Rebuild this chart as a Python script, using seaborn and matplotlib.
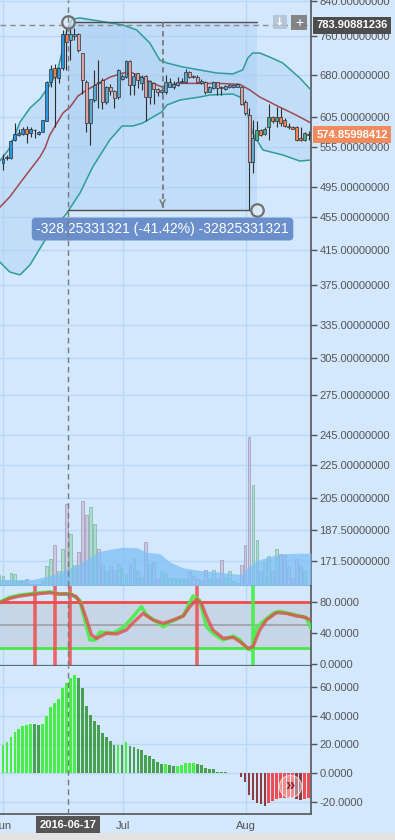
import numpy as np
import pandas as pd
import matplotlib
matplotlib.use("Agg")
import matplotlib.pyplot as plt
from matplotlib.ticker import FixedLocator, NullLocator, FuncFormatter
from matplotlib.patches import Rectangle
import seaborn as sns

# ---------------- data (day index 0 = 2016-06-01) ----------------
days = list(range(78))
opens = [531, 538, 538, 566, 574, 576, 585, 577, 583, 576,
         580, 598, 668, 694, 675, 694, 765, 753, 760, 766,
         724, 668, 594, 634, 668, 671, 631, 658, 651, 639,
         673, 677, 709, 662, 684, 666, 679, 640, 666, 654,
         649, 649, 659, 659, 662, 667, 668, 687, 679, 678,
         666, 668, 649, 656, 668, 659, 654, 659, 659, 659,
         659, 631, 608, 532, 567, 583, 576, 587, 604, 598,
         604, 599, 590, 588, 587, 569, 566, 576]
highs = [544, 543, 566, 594, 585, 587, 589, 587, 584, 581,
         600, 670, 701, 702, 697, 774, 780, 783.91, 779, 768,
         725, 671, 637, 691, 711, 675, 660, 664, 653, 692,
         682, 711, 711, 685, 684, 681, 681, 671, 668, 656,
         659, 681, 675, 670, 678, 675, 692, 689, 681, 681,
         673, 670, 660, 670, 668, 660, 662, 663, 663, 665,
         660, 634, 620, 599, 597, 585, 587, 628, 606, 622,
         620, 603, 594, 589, 589, 587, 580, 581]
lows = [520, 535, 537, 564, 573, 574, 562, 571, 569, 575,
        579, 597, 658, 588, 666, 691, 691, 711, 752, 727,
        646, 580, 558, 631, 620, 619, 628, 643, 620, 637,
        671, 675, 643, 643, 656, 653, 597, 627, 628, 642,
        646, 646, 658, 654, 660, 665, 666, 675, 675, 665,
        663, 646, 648, 654, 643, 643, 653, 656, 657, 658,
        625, 608, 464.23, 516, 566, 572, 574, 566, 594, 587,
        589, 587, 585, 584, 564, 564, 565, 566]
closes = [536, 539, 565, 576, 578, 585, 576, 585, 582, 580,
          599, 668, 692, 677, 694, 766, 748, 765, 766, 731,
          671, 594, 636, 662, 665, 631, 659, 651, 638, 691,
          679, 709, 662, 679, 671, 678, 640, 670, 654, 649,
          653, 668, 668, 664, 668, 670, 687, 678, 677, 668,
          670, 648, 659, 668, 656, 656, 660, 661, 661, 663,
          628, 611, 532, 569, 583, 574, 585, 604, 598, 605,
          595, 589, 588, 585, 567, 566, 578, 574.85998412]

# Bollinger bands
upper_days = [-0.8, 1.7, 4.3, 6.8, 9.3, 11.8, 13.6, 14.8, 16.1, 17.4, 19.4, 24.4, 30.2, 33.7,
              37.0, 39.5, 41.3, 45.3, 49.6, 53.9, 57.9, 60.4, 61.7, 62.9, 64.7, 67.2, 70.5, 74.8, 77.6]
upper_vals = [533.5, 553.6, 595.9, 620.1, 636.1, 661.9, 685.1, 724.2, 773.7, 797.8, 800.5, 793.4,
              784.7, 773.7, 745.7, 710.6, 704.6, 696.6, 690.7, 684.8, 683.0, 690.7, 714.6, 724.8,
              724.8, 716.6, 704.6, 675.2, 652.6]
middle_days = [-0.8, 1.7, 4.3, 6.8, 9.3, 10.6, 11.8, 13.6, 15.1, 16.9, 18.9, 21.1, 24.4, 26.9, 30.2,
               32.7, 35.2, 37.8, 40.3, 42.0, 44.6, 49.6, 54.6, 59.7, 62.2, 64.7, 67.2, 69.7, 72.3,
               74.8, 77.6]
middle_vals = [467.9, 481.8, 501.2, 520.1, 539.6, 553.6, 574.4, 594.2, 611.3, 621.7, 641.6, 652.6,
               666.2, 676.6, 684.8, 684.8, 675.2, 664.9, 657.6, 661.9, 664.9, 664.9, 664.9, 663.0,
               652.6, 639.7, 630.7, 621.7, 613.1, 604.5, 594.2]
lower_days = [-0.8, 1.7, 4.3, 6.8, 10.6, 16.1, 19.4, 22.6, 26.9, 30.0, 32.7, 35.2, 37.8, 40.0, 41.3,
              44.6, 49.6, 52.1, 57.9, 59.7, 61.4, 62.9, 65.5, 70.5, 74.8, 77.6]
lower_vals = [400.6, 389.4, 386.2, 397.3, 426.4, 460.3, 487.2, 524.5, 566.3, 589.2, 589.2, 594.2,
              604.5, 613.1, 625.4, 634.3, 639.7, 643.4, 645.2, 639.7, 616.6, 577.6, 550.5, 542.7,
              533.5, 535.0]

# Volume (arbitrary units) and its moving average
vol_days = list(range(-1, 77))
volumes = [11, 10, 5.5, 13, 11.5, 4.5, 4.5, 7, 2, 2,
           2, 4.5, 20, 27, 40.5, 14.5, 37, 82, 52, 21,
           33.5, 85, 70.5, 79, 62, 36.5, 21, 14.5, 19.5, 16,
           22, 18, 12, 22, 27, 14.5, 9, 43.5, 21.5, 23.5,
           7, 14.5, 12, 8, 8, 8, 6.5, 6.5, 14.5, 10,
           7, 5.5, 15.5, 7, 16, 7, 26, 9, 14.5, 4.5,
           3, 21, 40.5, 149, 100.5, 46, 14.5, 24, 30, 15.5,
           37, 31.5, 30.5, 19.5, 8, 27, 19.5, 16]
vol_ma_days = [-0.8, 7.6, 10.1, 13.6, 16.1, 18.6, 21.2, 24.4, 27.7, 30.2, 33.8, 36.3, 39.6, 42.1,
               45.4, 49.6, 54.7, 59.7, 60.5, 61.7, 64.0, 67.3, 70.6, 74.8, 77.6]
vol_ma = [6, 6, 8.3, 11.7, 16.7, 20, 26.7, 34.3, 36.7, 38.3, 37.7, 33.3, 31.7, 23.3,
          17.7, 15, 13.3, 11, 12.3, 18.3, 25, 29, 31.7, 32.3, 32.3]

# Stochastic oscillator
stoch_k_days = [-0.8, 1.7, 4.3, 7.6, 11.8, 14.3, 16.9, 19.4, 20.7, 21.9, 23.2, 24.4, 27.8, 30.3,
                32.8, 34.9, 36.2, 38.7, 40.4, 42.0, 45.4, 47.9, 49.6, 51.3, 52.9, 55.5, 58.0, 59.7,
                61.3, 62.6, 63.8, 65.5, 68.1, 69.7, 72.3, 74.7, 76.4, 77.6]
stoch_k = [80, 86, 89, 91, 93, 90, 91, 82, 55, 31, 31, 41, 40, 47, 61, 74, 63, 54.6, 48.1, 54,
           61.9, 87.7, 81.7, 48.1, 39.6, 31, 36.1, 31, 20.3, 18, 46, 54.6, 65.4, 68, 65, 62, 60, 46]
stoch_d_days = [-0.8, 1.7, 4.3, 7.6, 11.8, 14.3, 16.9, 18.5, 19.8, 21.1, 22.3, 23.6, 26.1, 28.6,
                31.1, 32.8, 35.3, 37.8, 40.4, 42.9, 45.4, 47.1, 48.8, 50.0, 51.3, 52.9, 55.5, 58.0,
                59.7, 61.8, 63.0, 64.7, 66.4, 68.9, 71.4, 74.0, 75.6, 77.6]
stoch_d = [79, 84.7, 87.7, 90, 92, 90.3, 90.3, 86.8, 76, 56.8, 37.4, 33.1, 39.6, 38.7, 43.9, 53.3,
           65.4, 56.8, 52.5, 56.8, 61.9, 74, 83.5, 78.3, 61, 43.9, 33.1, 34.4, 28.8, 20.3, 22.3,
           43.9, 56.8, 66.2, 65.4, 61.9, 61, 56.8]
sell_signal_days = [8, 13, 17, 49]
buy_signal_days = [63]

# MACD histogram
macd_days = list(range(-1, 78))
macd_hist = [16.9, 19.7, 22, 25.5, 28.7, 30.8, 32.9, 33.6, 34.3, 34.3,
             33.6, 34.3, 39.8, 46, 48.8, 51.6, 59.3, 62.7, 66.2, 68.3,
             66.4, 59.3, 46.8, 40.5, 36.3, 33.6, 28.2, 25.2, 22.5, 19.7,
             19.9, 19.7, 21.8, 19, 18, 16.9, 16.2, 12.7, 11.8, 9.7,
             7.9, 6.3, 6.4, 5.6, 4.9, 5.1, 5.8, 6.9, 6.95, 7.0,
             6.3, 5.8, 3.5, 2.8, 2.7, 1.2, 0.7, 0.6, 0.3, 0.2,
             0.1, -2.3, -5.8, -15, -18.5, -20.4, -21.5, -22.5, -20.8, -19,
             -18, -17.4, -17.3, -17.2, -17.1, -18, -18.5, -18, -17.5]

# axis labels / ticks
price_ticks = [840, 760, 680, 605, 555, 495, 455, 415, 375, 335, 305, 275, 245, 225, 205, 187.5, 171.5]
stoch_ticks = [0, 40, 80]
macd_ticks = [-20, 0, 20, 40, 60]
month_pos = [0, 30.3, 61.3]
month_labels = ["Jun", "Jul", "Aug"]
cursor_day = 16.3
cursor_label = "2016-06-17"
peak_marker = 783.90881236
last_price = 574.85998412
meas_start = (16.4, 792.48)
meas_end = (64.0, 464.23)
meas_text = "-328.25331321 (-41.42%) -32825331321"

# ---------------- style ----------------
sns.set_style("white")
plt.rcParams["font.family"] = ["Liberation Sans", "DejaVu Sans"]

BG = "#D3E7FD"
GRID = "#B9D8F6"
AXC = "#555555"
W, H = 395, 840

fig = plt.figure(figsize=(3.95, 8.4), dpi=100)
fig.patch.set_facecolor(BG)


def rect(x0, y0, x1, y1):
    return [x0 / W, 1 - y1 / H, (x1 - x0) / W, (y1 - y0) / H]


ax = fig.add_axes(rect(0, 0, 311, 585.5))
ax_v = fig.add_axes(rect(0, 0, 311, 585.5), sharex=ax)
ax_s = fig.add_axes(rect(0, 585.5, 311, 666), sharex=ax)
ax_m = fig.add_axes(rect(0, 666, 311, 814), sharex=ax)

for a in (ax, ax_s, ax_m):
    a.set_facecolor(BG)
    a.spines["top"].set_visible(False)
    a.spines["left"].set_visible(False)
    for s in ("right", "bottom"):
        a.spines[s].set_color(AXC)
        a.spines[s].set_linewidth(1.2)
    a.yaxis.tick_right()
    a.tick_params(axis="y", which="major", direction="out", length=4, width=1, color=AXC,
                  labelcolor=AXC, labelsize=8, pad=2, right=True, left=False,
                  labelright=True, labelleft=False)
    a.tick_params(axis="y", which="minor", length=0)
    a.grid(True, color=GRID, lw=1)
    a.set_axisbelow(True)

ax.set_xlim(-0.756, 77.62)
ax.xaxis.set_major_locator(FixedLocator(month_pos))
ax_m.set_xticklabels(month_labels)
for a in (ax, ax_s):
    a.tick_params(axis="x", length=0, labelbottom=False)
ax_m.tick_params(axis="x", direction="out", length=3, width=1, color=AXC, labelcolor=AXC,
                 labelsize=8, pad=2, labelbottom=True)

# ---------------- main price panel ----------------
ax.set_yscale("log")
ax.set_ylim(160.0, 842.4)
ax.yaxis.set_major_locator(FixedLocator(price_ticks))
ax.yaxis.set_minor_locator(NullLocator())
ax.yaxis.set_major_formatter(FuncFormatter(lambda v, p: f"{v:.8f}"))

# band fill
ax.fill(np.r_[upper_days, lower_days[::-1]], np.r_[upper_vals, lower_vals[::-1]],
        color="#AFD1F3", alpha=0.45, lw=0, zorder=1)
sns.lineplot(x=upper_days, y=upper_vals, ax=ax, color="#2E9C9A", lw=1.1, zorder=3)
sns.lineplot(x=lower_days, y=lower_vals, ax=ax, color="#2E9C9A", lw=1.1, zorder=3)
sns.lineplot(x=middle_days, y=middle_vals, ax=ax, color="#A04850", lw=1.1, zorder=3)

# measurement rectangle
ax.fill_between([meas_start[0], meas_end[0]], meas_end[1], meas_start[1],
                color="#9DC7F1", alpha=0.3, lw=0, zorder=2)

# candles
df = pd.DataFrame({"day": days, "open": opens, "high": highs, "low": lows, "close": closes})
df["up"] = df["close"] >= df["open"]


def body_color(k, up):
    if k <= 16:
        return "#2C97E3" if up else "#F27E4C"
    if k <= 63:
        return "#5AAAD2" if up else "#D9A3A6"
    return "#4DAE86" if up else "#F2844F"


cols = [body_color(k, u) for k, u in zip(df["day"], df["up"])]
ax.vlines(df["day"], df["low"], df["high"], color="#2E2E2E", lw=0.8, zorder=4)
body_lo = np.minimum(df["open"], df["close"])
body_h = np.maximum((df["close"] - df["open"]).abs(), 0.6)
ax.bar(df["day"], body_h, bottom=body_lo, width=0.75, color=cols, edgecolor="#2E2E2E",
       linewidth=0.5, zorder=5)

# peak dashed line
ax.axhline(peak_marker, color="#8A8A8A", ls=(0, (4, 3)), lw=1, zorder=6)

# measurement tool
mid_x = (meas_start[0] + meas_end[0]) / 2
ax.plot([meas_start[0] + 1.6, meas_end[0]], [meas_start[1]] * 2, color="#505050", lw=1, zorder=7)
ax.plot([meas_start[0], meas_end[0] - 1.4], [meas_end[1]] * 2, color="#505050", lw=1, zorder=7)
ax.plot([mid_x, mid_x], [meas_start[1], meas_end[1] * 1.004], color="#7A7A7A", lw=1.3,
        ls=(0, (3, 2)), zorder=7)
ax.annotate("", xy=(mid_x, meas_end[1] * 1.002), xytext=(mid_x, meas_end[1] * 1.02),
            arrowprops=dict(arrowstyle="->", color="#7A7A7A", lw=1.1,
                            mutation_scale=9), zorder=7)
for pt in (meas_start, meas_end):
    ax.plot(pt[0], pt[1], "o", ms=9, mfc=(0.88, 0.92, 0.97, 0.6), mec="#707070", mew=1.6,
            zorder=8)
ax.annotate(meas_text, xy=(mid_x, meas_end[1]), xytext=(0, -13.7), textcoords="offset points",
            ha="center", va="center", fontsize=10, color="white", zorder=9,
            bbox=dict(boxstyle="round,pad=0.32,rounding_size=0.3", fc="#6A8FCA", ec="none"))

# right-hand price labels
ax.annotate(f"{peak_marker:.8f}", xy=(1, peak_marker), xycoords=("axes fraction", "data"),
            xytext=(4, 0), textcoords="offset points", ha="left", va="center", fontsize=8,
            fontweight="bold", color="white", annotation_clip=False, zorder=10,
            bbox=dict(boxstyle="square,pad=0.3", fc="#4D4D4D", ec="none"))
ax.annotate(f"{last_price:.8f}", xy=(1, last_price), xycoords=("axes fraction", "data"),
            xytext=(4, 0), textcoords="offset points", ha="left", va="center", fontsize=8,
            fontweight="bold", color="white", annotation_clip=False, zorder=10,
            bbox=dict(boxstyle="square,pad=0.3", fc="#F28A5B", ec="none"))

# small toolbar buttons
fig.add_artist(Rectangle((273 / W, 1 - 29 / H), 14 / W, 14 / H, transform=fig.transFigure,
                         fc="#B3C2D3", ec="none", alpha=0.9))
fig.text(280 / W, 1 - 22 / H, "↓", ha="center", va="center", color="white", fontsize=8,
         fontweight="bold", family=["DejaVu Sans"])
fig.add_artist(Rectangle((291 / W, 1 - 30 / H), 16 / W, 15 / H, transform=fig.transFigure,
                         fc="#7A7A7A", ec="none", alpha=0.9))
fig.text(299 / W, 1 - 22.5 / H, "+", ha="center", va="center", color="white", fontsize=10)

# ---------------- volume (overlay) ----------------
ax_v.set_ylim(0, 585.5)
ax_v.axis("off")
ax_v.patch.set_visible(False)
up_map = dict(zip(df["day"], df["up"]))
v_fc = ["#A9D9C6" if up_map.get(d, True) else "#CBC3DA" for d in vol_days]
v_ec = ["#78B9A3" if up_map.get(d, True) else "#A098B8" for d in vol_days]
ax_v.bar(vol_days, volumes, width=0.72, color=v_fc, edgecolor=v_ec, linewidth=0.6, alpha=0.85,
         zorder=2)
ax_v.fill_between(vol_ma_days, 0, vol_ma, color="#7DBFF6", alpha=0.75, lw=0, zorder=3)
ax_v.axvline(cursor_day, color="#7A7A7A", ls=(0, (4, 3)), lw=1, zorder=6)

# ---------------- stochastic panel ----------------
ax_s.set_ylim(-2.6, 101.3)
ax_s.yaxis.set_major_locator(FixedLocator(stoch_ticks))
ax_s.yaxis.set_major_formatter(FuncFormatter(lambda v, p: f"{v:.4f}"))
ax_s.axhspan(20, 80, color="#C8D5E5", lw=0, zorder=0.5)
ax_s.axhline(50, color="#A3A9B2", lw=1.5, zorder=1)
ax_s.axhline(80, color="#F04A4A", lw=2, zorder=1.5)
ax_s.axhline(20, color="#46E846", lw=2, zorder=1.5)
ax_s.vlines(sell_signal_days, -2.6, 101.3, color="#EE4E4E", lw=2.6, alpha=0.85, zorder=2)
ax_s.vlines(buy_signal_days, -2.6, 101.3, color="#44EE44", lw=2.6, alpha=0.9, zorder=2)
sns.lineplot(x=stoch_k_days, y=stoch_k, ax=ax_s, color="#50EC50", lw=2.6, alpha=0.95, zorder=3)
sns.lineplot(x=stoch_d_days, y=stoch_d, ax=ax_s, color="#DF4E4E", lw=2.4, alpha=0.8, zorder=4)
ax_s.axvline(cursor_day, color="#7A7A7A", ls=(0, (4, 3)), lw=1, zorder=6)
ax_s.set_ylabel("")

# ---------------- MACD histogram panel ----------------
ax_m.set_ylim(-28.3, 74.5)
ax_m.yaxis.set_major_locator(FixedLocator(macd_ticks))
ax_m.yaxis.set_major_formatter(FuncFormatter(lambda v, p: f"{v:.4f}"))
m_cols = []
prev = None
for v in macd_hist:
    rising = prev is not None and v > prev
    if prev is None:
        rising = True
    if v >= 0:
        m_cols.append("#46EE46" if rising else "#46A050")
    else:
        m_cols.append("#EE4C52" if rising else "#8E3B44")
    prev = v
ax_m.bar(macd_days, macd_hist, width=0.7, color=m_cols, linewidth=0, zorder=3)
ax_m.axvline(cursor_day, color="#7A7A7A", ls=(0, (4, 3)), lw=1, zorder=6)
ax_m.plot(72.3, -8.8, "o", ms=16, mfc=(1, 1, 1, 0.35), mec=(1, 1, 1, 0.55), mew=1, zorder=7)
ax_m.text(72.3, -8.8, "»", ha="center", va="center", fontsize=12, fontweight="bold",
          color="#8B2A30", zorder=8)
ax_m.annotate(cursor_label, xy=(cursor_day, 0), xycoords=("data", "axes fraction"),
              xytext=(0, -8), textcoords="offset points", ha="center", va="center", fontsize=8,
              fontweight="bold", color="white", annotation_clip=False, zorder=10,
              bbox=dict(boxstyle="square,pad=0.33", fc="#555555", ec="none"))

for a in (ax, ax_v, ax_s, ax_m):
    a.set_xlabel("")
    a.set_ylabel("")

# bottom gray strip
fig.add_artist(Rectangle((0, 0), 1, 7 / H, transform=fig.transFigure, fc="#E3E3E3", ec="none"))

fig.savefig("out.png", dpi=100, facecolor=BG)
